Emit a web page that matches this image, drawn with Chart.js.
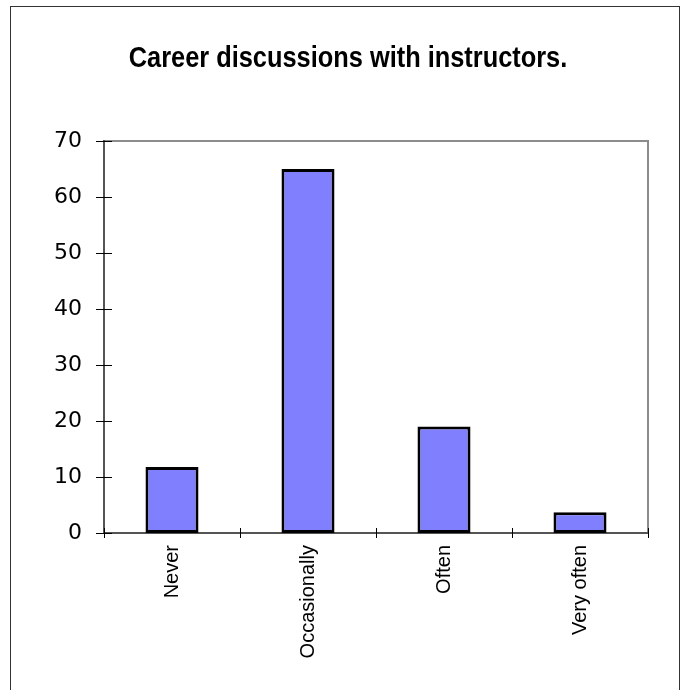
<!DOCTYPE html>
<html>
<head>
<meta charset="utf-8">
<script src="https://cdn.jsdelivr.net/npm/chart.js@4.4.1/dist/chart.umd.min.js"></script>
<style>
  html, body { margin: 0; padding: 0; background: #fff; }
  #wrap { width: 683px; height: 690px; }
</style>
</head>
<body>
<div id="wrap"><canvas id="chart" width="683" height="690"></canvas></div>
<script>
const categories = ['Never', 'Occasionally', 'Often', 'Very often'];
const responses = [11.8, 65, 19, 3.7];
const yTicks = [0, 10, 20, 30, 40, 50, 60, 70];
const chartTitle = 'Career discussions with instructors.';

// frame round the whole picture, the grey top/right edge of the plot and the narrow title
const framePlugin = {
  id: 'frame',
  beforeDraw(chart) {
    const ctx = chart.ctx;
    const a = chart.chartArea;
    ctx.save();
    ctx.fillStyle = '#fff';
    ctx.fillRect(0, 0, chart.width, chart.height);
    ctx.strokeStyle = '#333';
    ctx.lineWidth = 1;
    ctx.strokeRect(10.5, 6.5, 669, 720);
    ctx.strokeStyle = '#8c8c8c';
    ctx.lineWidth = 2;
    ctx.beginPath();
    ctx.moveTo(a.left, a.top);
    ctx.lineTo(a.right, a.top);
    ctx.lineTo(a.right, a.bottom);
    ctx.stroke();

    // title, squeezed horizontally like a narrow face
    ctx.translate(348, 67);
    ctx.scale(0.875, 1);
    ctx.font = 'bold 29px "Liberation Sans", Arial, sans-serif';
    ctx.fillStyle = '#000';
    ctx.textAlign = 'center';
    ctx.textBaseline = 'alphabetic';
    ctx.fillText(chartTitle, 0, 0);
    ctx.restore();
  },
  afterDraw(chart) {
    // tick marks that cross the axis lines
    const ctx = chart.ctx;
    const x = chart.scales.x;
    const y = chart.scales.y;
    ctx.save();
    ctx.strokeStyle = '#000';
    ctx.lineWidth = 1;
    ctx.beginPath();
    y.ticks.forEach(t => {
      const py = Math.round(y.getPixelForValue(t.value)) + 0.5;
      ctx.moveTo(x.left - 8, py);
      ctx.lineTo(x.left + 8, py);
    });
    const n = categories.length;
    for (let i = 0; i <= n; i++) {
      const px = Math.round(x.left + i * x.width / n) + 0.5;
      ctx.moveTo(px, y.bottom - 5);
      ctx.lineTo(px, y.bottom + 5);
    }
    ctx.stroke();
    ctx.restore();
  }
};

new Chart(document.getElementById('chart'), {
  type: 'bar',
  data: {
    labels: categories,
    datasets: [{
      data: responses,
      backgroundColor: '#8080ff',
      borderColor: '#000',
      borderWidth: 3,
      borderSkipped: false,
      categoryPercentage: 1,
      barPercentage: 0.39
    }]
  },
  options: {
    responsive: false,
    animation: false,
    layout: { padding: { left: 0, right: 35, top: 141, bottom: 0 } },
    plugins: {
      legend: { display: false },
      tooltip: { enabled: false },
      title: { display: false }
    },
    scales: {
      x: {
        grid: { display: false, drawTicks: false },
        border: { display: true, color: '#555', width: 2 },
        ticks: {
          color: '#000',
          font: { family: '"Liberation Sans", Arial, sans-serif', size: 20 },
          minRotation: 90,
          maxRotation: 90,
          padding: 12
        },
        afterFit(scale) { scale.height = 157; }
      },
      y: {
        min: 0,
        max: 70,
        grid: { display: false, drawTicks: false },
        border: { display: true, color: '#555', width: 2 },
        afterBuildTicks(scale) { scale.ticks = yTicks.map(v => ({ value: v })); },
        ticks: {
          color: '#000',
          font: { family: '"DejaVu Sans", sans-serif', size: 22 },
          padding: 22
        },
        afterFit(scale) { scale.width = 104; }
      }
    }
  },
  plugins: [framePlugin]
});
</script>
</body>
</html>
